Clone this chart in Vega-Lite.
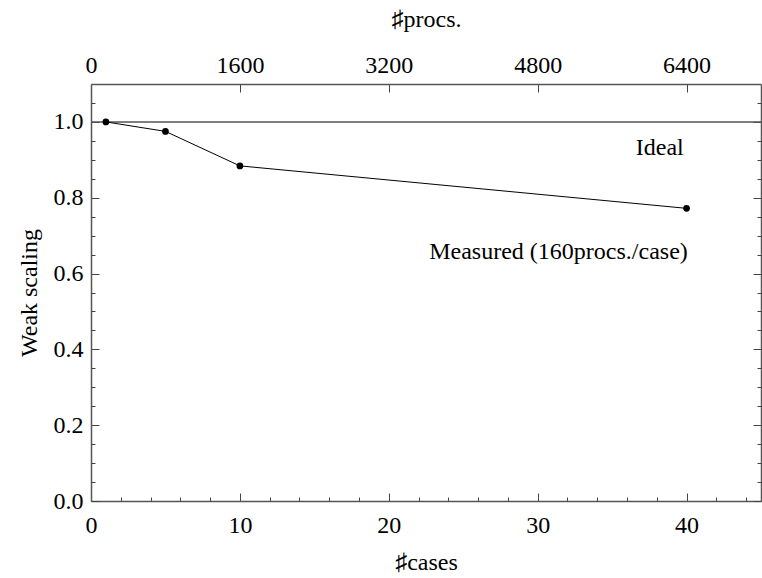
{
  "$schema": "https://vega.github.io/schema/vega-lite/v6.json",
  "width": 670,
  "height": 417,
  "autosize": {"type": "none"},
  "padding": {"left": 91, "top": 84, "right": 1, "bottom": 77},
  "background": "white",
  "config": {
    "view": {"stroke": null},
    "font": "Liberation Serif",
    "axis": {
      "labelFont": "Liberation Serif",
      "titleFont": "Liberation Serif",
      "labelFontSize": 24,
      "titleFontSize": 24,
      "titleFontWeight": "normal",
      "labelColor": "black",
      "titleColor": "black",
      "domainColor": "#555",
      "domainWidth": 1.5,
      "tickColor": "#444",
      "tickWidth": 1,
      "grid": false,
      "labelFlush": false,
      "labelOverlap": false
    }
  },
  "datasets": {
    "ideal": [
      {"scaling": 1.0}
    ],
    "measured": [
      {"cases": 1, "scaling": 1.0},
      {"cases": 5, "scaling": 0.975},
      {"cases": 10, "scaling": 0.884},
      {"cases": 40, "scaling": 0.772}
    ],
    "labels": [
      {"cases": 38.2, "scaling": 0.93, "text": "Ideal"},
      {"cases": 31.4, "scaling": 0.657, "text": "Measured (160procs./case)"}
    ]
  },
  "layer": [
    {
      "layer": [
        {
          "data": {"name": "ideal"},
          "mark": {"type": "rule", "color": "#555", "strokeWidth": 1.5},
          "encoding": {"y": {"field": "scaling", "type": "quantitative"}}
        },
        {
          "data": {"name": "measured"},
          "mark": {"type": "line", "color": "black", "strokeWidth": 1},
          "encoding": {
            "x": {"field": "cases", "type": "quantitative"},
            "y": {"field": "scaling", "type": "quantitative"}
          }
        },
        {
          "data": {"name": "measured"},
          "mark": {"type": "point", "filled": true, "color": "black", "opacity": 1, "size": 45},
          "encoding": {
            "x": {"field": "cases", "type": "quantitative"},
            "y": {"field": "scaling", "type": "quantitative"}
          }
        },
        {
          "data": {"name": "labels"},
          "mark": {"type": "text", "font": "Liberation Serif", "fontSize": 24, "color": "black", "baseline": "middle", "align": "center"},
          "encoding": {
            "x": {"field": "cases", "type": "quantitative"},
            "y": {"field": "scaling", "type": "quantitative"},
            "text": {"field": "text"}
          }
        }
      ],
      "encoding": {
        "x": {
          "type": "quantitative",
          "scale": {"domain": [0, 45], "nice": false, "zero": false},
          "axis": {"orient": "bottom", "values": [0, 10, 20, 30, 40], "format": "d", "tickSize": -8, "labelPadding": 20, "title": "♯cases", "titlePadding": 13}
        },
        "y": {
          "type": "quantitative",
          "scale": {"domain": [0, 1.1], "nice": false, "zero": false},
          "axis": {"orient": "left", "values": [0, 0.2, 0.4, 0.6, 0.8, 1.0], "format": ".1f", "tickSize": -8, "labelPadding": 16, "title": "Weak scaling", "titlePadding": 12}
        }
      }
    },
    {
      "data": {"values": [{}]},
      "mark": {"type": "point", "opacity": 0},
      "encoding": {
        "x": {
          "datum": 0, "type": "quantitative",
          "scale": {"domain": [0, 45], "nice": false, "zero": false},
          "axis": {"orient": "bottom", "values": [2, 4, 6, 8, 12, 14, 16, 18, 22, 24, 26, 28, 32, 34, 36, 38, 42, 44], "labels": false, "tickSize": -4, "title": null, "domain": false}
        },
        "y": {
          "datum": 0, "type": "quantitative",
          "scale": {"domain": [0, 1.1], "nice": false, "zero": false},
          "axis": {"orient": "left", "values": [0.05, 0.1, 0.15, 0.25, 0.3, 0.35, 0.45, 0.5, 0.55, 0.65, 0.7, 0.75, 0.85, 0.9, 0.95, 1.05], "labels": false, "tickSize": -4, "title": null, "domain": false}
        }
      }
    },
    {
      "data": {"values": [{}]},
      "mark": {"type": "point", "opacity": 0},
      "encoding": {
        "x": {
          "datum": 0, "type": "quantitative",
          "scale": {"domain": [0, 7200], "nice": false, "zero": false},
          "axis": {"orient": "top", "values": [0, 1600, 3200, 4800, 6400], "format": "d", "tickSize": -8, "labelPadding": 15, "title": "♯procs.", "titlePadding": 22}
        },
        "y": {
          "datum": 0, "type": "quantitative",
          "scale": {"domain": [0, 1.1], "nice": false, "zero": false},
          "axis": {"orient": "right", "values": [0, 0.2, 0.4, 0.6, 0.8, 1.0], "labels": false, "tickSize": -8, "title": null}
        }
      }
    },
    {
      "data": {"values": [{}]},
      "mark": {"type": "point", "opacity": 0},
      "encoding": {
        "y": {
          "datum": 0, "type": "quantitative",
          "scale": {"domain": [0, 1.1], "nice": false, "zero": false},
          "axis": {"orient": "right", "values": [0.05, 0.1, 0.15, 0.25, 0.3, 0.35, 0.45, 0.5, 0.55, 0.65, 0.7, 0.75, 0.85, 0.9, 0.95, 1.05], "labels": false, "tickSize": -4, "title": null, "domain": false}
        }
      }
    }
  ],
  "resolve": {"scale": {"x": "independent", "y": "independent"}}
}
